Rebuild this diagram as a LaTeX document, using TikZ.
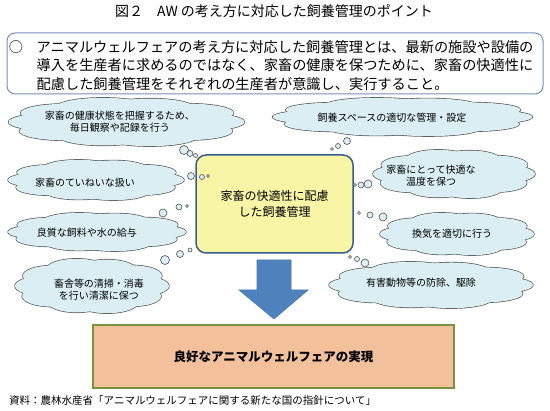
\documentclass[tikz,border=0pt]{standalone}
\usepackage{fontspec}
\setmainfont{Noto Sans CJK JP}

\definecolor{cloudfill}{HTML}{DAEEF3}
\definecolor{cloudline}{HTML}{505050}
\definecolor{corefill}{HTML}{F8F5A6}
\definecolor{coreline}{HTML}{3A5C8C}
\definecolor{introline}{HTML}{7390B8}
\definecolor{arrowfill}{HTML}{4F81BD}
\definecolor{arrowline}{HTML}{4677B2}
\definecolor{goalfill}{HTML}{F3C09C}
\definecolor{goalline}{HTML}{77933C}

% cloud = outlined puffs, then filled over to keep only the outer edge
\tikzset{pics/puffcloud/.style n args={2}{code={
	\begin{scope}[xscale=#1, yscale=#2]
		\foreach \pa/\pr in {0/0.36, 36/0.38, 72/0.40, 108/0.37, 144/0.39, 180/0.36, 216/0.38, 252/0.40, 288/0.37, 324/0.39} {
			\draw[cloudline, line width=1.3pt] (\pa:0.64) circle[radius=\pr];
		}
		\fill[cloudfill] (0,0) circle[radius=0.72];
		\foreach \pa/\pr in {0/0.36, 36/0.38, 72/0.40, 108/0.37, 144/0.39, 180/0.36, 216/0.38, 252/0.40, 288/0.37, 324/0.39} {
			\fill[cloudfill] (\pa:0.64) circle[radius=\pr];
		}
	\end{scope}
}}}

\begin{document}
\begin{tikzpicture}[x=1pt, y=-1pt,
	note/.style={align=center, inner sep=0pt, font=\fontsize{10}{12}\selectfont},
	bubble/.style={draw=cloudline, fill=cloudfill, line width=0.6pt}]
				\useasboundingbox (0,0) rectangle (550,411);
				
				% Title
				\node[font=\fontsize{14}{16}\selectfont] (title) at (274,11) {図２　AW の考え方に対応した飼養管理のポイント};
				
				% Intro box
				\node[draw=introline, line width=1pt, rounded corners=8pt, minimum width=536pt, minimum height=61pt] (intro) at (275,63.5) {};
				\node[font=\fontsize{14.2}{18.5}\selectfont, inner sep=0pt] (mark) at (16,47) {○};
				\node[anchor=west, align=left, inner sep=0pt, font=\fontsize{14.2}{18.5}\selectfont] (introtext) at (36.5,65.5) {アニマルウェルフェアの考え方に対応した飼養管理とは、最新の施設や設備の\\導入を生産者に求めるのではなく、家畜の健康を保つために、家畜の快適性に\\配慮した飼養管理をそれぞれの生産者が意識し、実行すること。};
				
				% Left clouds
				\pic (health) at (126.5,122) {puffcloud={118}{24}};
				\pic (handling) at (96,180) {puffcloud={88}{20}};
				\pic (feed) at (97,232) {puffcloud={89}{19}};
				\pic (clean) at (92,286) {puffcloud={77}{27}};
				
				% Right clouds
				\pic (space) at (402.5,117) {puffcloud={130}{19}};
				\pic (temp) at (454,174) {puffcloud={81}{24}};
				\pic (air) at (457,234) {puffcloud={77}{21}};
				\pic (pest) at (431,285) {puffcloud={102}{23}};
				
				% Cloud texts
				\node[note] (healthtext) at (120,122) {家畜の健康状態を把握するため、\\毎日観察や記録を行う};
				\node[note] (handlingtext) at (85,183) {家畜のていねいな扱い};
				\node[note] (feedtext) at (87,233) {良質な飼料や水の給与};
				\node[note] (cleantext) at (99,290) {畜舎等の清掃・消毒\\を行い清潔に保つ};
				\node[note] (spacetext) at (392,118) {飼養スペースの適切な管理・設定};
				\node[note] (temptext) at (431,176) {家畜にとって快適な\\温度を保つ};
				\node[note] (airtext) at (452,234) {換気を適切に行う};
				\node[note] (pesttext) at (421,283) {有害動物等の防除、駆除};
				
				% Central box
				\node[draw=coreline, fill=corefill, line width=1.5pt, rounded corners=10pt, minimum width=157pt, minimum height=98pt, align=center, font=\fontsize{12}{16}\selectfont] (core) at (274.5,204) {家畜の快適性に配慮\\した飼養管理};
				
				% Thought bubbles
				\foreach \bx/\by/\br in {184/150/4.5, 190/153.5/3, 195.5/155.5/2,
					191/176/3.5, 202/177/2.5, 208/176/1.5,
					163/213/4, 179/207/3, 187/206/1.5,
					165/260/4.5, 180/254/3.5, 190/250/2,
					347/141/3.5, 338/146/2.5, 332/149/1.5,
					368/184/4, 361/185/3, 355/185/1.5,
					383/217/4, 370/215/3, 359/213/1.5,
					365/263/4, 357/259/2.5, 350/257/1.5} {
					\draw[bubble] (\bx,\by) circle[radius=\br pt];
				}
				
				% Down arrow
				\draw[arrowline, fill=arrowfill, line width=0.6pt] (257,260) -- (291,260) -- (291,290) -- (308,290) -- (274,319) -- (239,290) -- (257,290) -- cycle;
				
				% Goal box
				\node[draw=goalline, fill=goalfill, line width=1.5pt, minimum width=361pt, minimum height=63pt, font=\fontsize{12.5}{14}\selectfont\bfseries] (goal) at (273.5,356.5) {良好なアニマルウェルフェアの実現};
				
				% Source
				\node[anchor=west, inner sep=0pt, font=\fontsize{10.5}{12}\selectfont] (source) at (9,401) {資料：農林水産省「アニマルウェルフェアに関する新たな国の指針について」};
			\end{tikzpicture}
\end{document}
